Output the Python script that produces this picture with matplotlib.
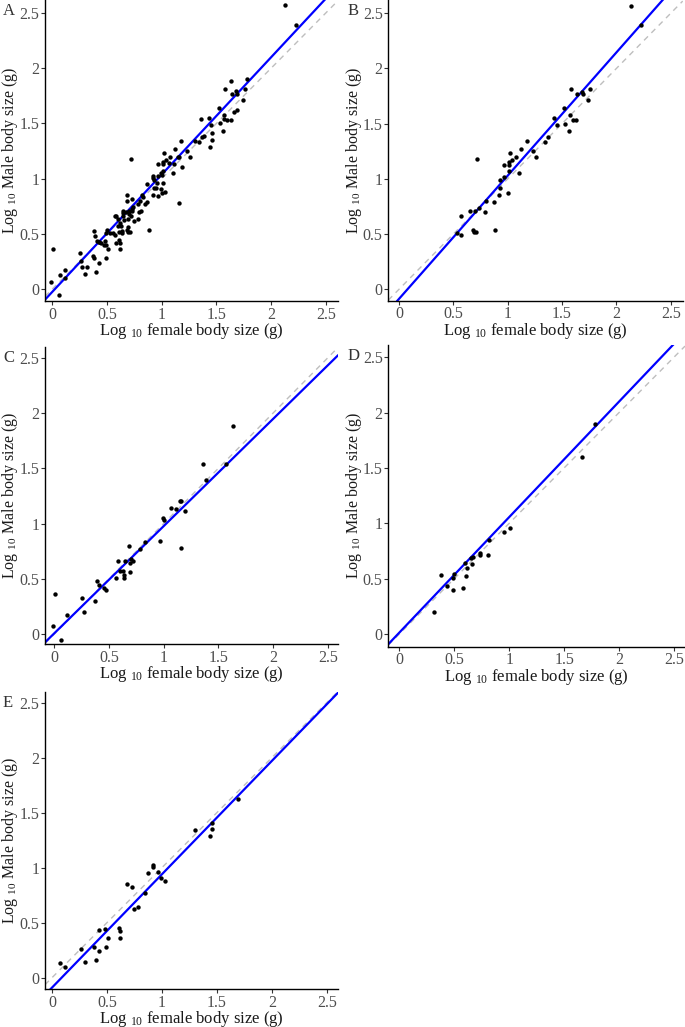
import numpy as np
import matplotlib
matplotlib.use("Agg")
import matplotlib.pyplot as plt

plt.rcParams['font.family'] = ['Liberation Serif', 'DejaVu Serif']
plt.rcParams['mathtext.fontset'] = 'custom'
plt.rcParams['mathtext.rm'] = 'Liberation Serif'
plt.rcParams['mathtext.it'] = 'Liberation Serif:italic'

# ---- data (log10 female, log10 male) ----
b_female = [2.13, 2.23, 1.58, 1.76, 1.64, 1.68, 1.69, 1.74, 1.52, 1.43, 1.57, 1.60, 1.63,
            1.53, 1.45, 1.56, 1.37, 1.34, 1.18, 1.12, 1.23, 1.26, 1.08, 1.02, 1.04, 1.01,
            0.97, 1.01, 0.72, 1.10, 1.01, 0.97, 0.93, 0.93, 0.92, 1.00, 0.87, 0.80, 0.79,
            0.74, 0.70, 0.65, 0.57, 0.57, 0.53, 0.68, 0.69, 0.71, 0.88]
b_male = [2.57, 2.39, 1.81, 1.81, 1.77, 1.79, 1.77, 1.71, 1.64, 1.55, 1.58, 1.53, 1.53,
          1.50, 1.49, 1.43, 1.38, 1.33, 1.34, 1.27, 1.25, 1.20, 1.20, 1.23, 1.17, 1.15,
          1.13, 1.13, 1.18, 1.05, 1.07, 1.02, 0.99, 0.92, 0.85, 0.87, 0.79, 0.80, 0.70,
          0.74, 0.71, 0.71, 0.66, 0.49, 0.51, 0.54, 0.52, 0.52, 0.54]

c_female = [1.63, 1.36, 1.57, 1.39, 1.15, 1.16, 1.07, 1.11, 1.19, 0.99, 1.00, 0.97, 1.16,
            0.83, 0.78, 0.68, 0.58, 0.65, 0.72, 0.70, 0.69, 0.60, 0.63, 0.69, 0.64, 0.64,
            0.56, 0.39, 0.41, 0.45, 0.47, 0.25, 0.37, 0.27, 0.12, 0.01, -0.01, 0.06]
c_male = [1.88, 1.54, 1.54, 1.39, 1.20, 1.20, 1.14, 1.13, 1.11, 1.05, 1.03, 0.84, 0.78,
          0.83, 0.77, 0.80, 0.66, 0.66, 0.66, 0.68, 0.64, 0.57, 0.57, 0.56, 0.53, 0.51,
          0.51, 0.48, 0.44, 0.42, 0.40, 0.33, 0.30, 0.20, 0.17, 0.36, 0.07, -0.05]

d_female = [1.78, 1.66, 1.01, 0.95, 0.82, 0.81, 0.73, 0.73, 0.65, 0.67, 0.60, 0.62, 0.66,
            0.61, 0.50, 0.49, 0.38, 0.43, 0.49, 0.58, 0.32]
d_male = [1.90, 1.60, 0.96, 0.92, 0.85, 0.71, 0.73, 0.71, 0.69, 0.70, 0.64, 0.60, 0.63,
          0.52, 0.54, 0.51, 0.53, 0.43, 0.40, 0.42, 0.20]

e_female = [1.69, 1.30, 1.46, 1.46, 1.44, 0.92, 0.92, 0.87, 0.96, 0.99, 1.03, 0.68, 0.73,
            0.85, 0.78, 0.75, 0.61, 0.62, 0.62, 0.43, 0.48, 0.51, 0.49, 0.43, 0.38, 0.26,
            0.40, 0.30, 0.07, 0.12]
e_male = [1.62, 1.34, 1.41, 1.35, 1.29, 1.02, 1.01, 0.95, 0.96, 0.91, 0.88, 0.85, 0.82,
          0.77, 0.64, 0.62, 0.45, 0.42, 0.36, 0.43, 0.44, 0.36, 0.28, 0.24, 0.28, 0.26,
          0.16, 0.14, 0.13, 0.10]

a_female = b_female + c_female + d_female + e_female
a_male = b_male + c_male + d_male + e_male

panel_labels = ['A', 'B', 'C', 'D', 'E']
fit_slopes = [1.062, 1.116, 0.970, 1.043, 1.030]
fit_intercepts = [-0.025, -0.087, 0.007, 0.013, -0.09]
x_ticks = [0, 0.5, 1, 1.5, 2, 2.5]
y_ticks = [0, 0.5, 1, 1.5, 2, 2.5]
x_tick_labels = ['0', '0.5', '1', '1.5', '2', '2.5']
y_tick_labels = ['0', '0.5', '1', '1.5', '2', '2.5']
x_label = 'Log $_{10}$ female body size (g)'
y_label = 'Log $_{10}$ Male body size (g)'

panels_x = [a_female, b_female, c_female, d_female, e_female]
panels_y = [a_male, b_male, c_male, d_male, e_male]

# ---- layout (pixel boxes: left, right, top, bottom) ----
W, H = 685, 1027
boxes = [(45, 338, 0, 301), (388.3, 682.7, 0, 300.7),
         (45, 337.7, 346.7, 644), (388.3, 685, 345, 646.7),
         (45, 337.7, 691.7, 989)]
xlims = [(-0.065, 2.61), (-0.098, 2.61), (-0.085, 2.59), (-0.10, 2.60), (-0.064, 2.60)]
ylims = [(-0.106, 2.616), (-0.103, 2.62), (-0.09, 2.60), (-0.114, 2.61), (-0.103, 2.60)]

fig = plt.figure(figsize=(W / 100, H / 100), dpi=100)
tick_color = '#4D4D4D'

for i in range(5):
    l, r, t, b = boxes[i]
    ax = fig.add_axes([l / W, 1 - b / H, (r - l) / W, (b - t) / H])
    ax.axline((0, 0), slope=1, color='#BEBEBE', lw=1.0, dashes=(4, 3.5), zorder=1)
    ax.axline((0, fit_intercepts[i]), slope=fit_slopes[i], color='#0000FF', lw=1.6, zorder=2)
    ax.scatter(panels_x[i], panels_y[i], s=10, color='black', zorder=3, linewidths=0)
    ax.set_xlim(*xlims[i])
    ax.set_ylim(*ylims[i])
    ax.set_xticks(x_ticks)
    ax.set_xticklabels(x_tick_labels)
    ax.set_yticks(y_ticks)
    ax.set_yticklabels(y_tick_labels)
    for s in ['top', 'right']:
        ax.spines[s].set_visible(False)
    for s in ['left', 'bottom']:
        ax.spines[s].set_linewidth(1.0)
        ax.spines[s].set_color('black')
    ax.tick_params(axis='both', direction='out', length=3, width=0.8,
                   color='#333333', labelcolor=tick_color, labelsize=11.5, pad=1)
    ax.set_xlabel(x_label, fontsize=12, color='#1a1a1a')
    ax.set_ylabel(y_label, fontsize=11.5, color='#1a1a1a')
    ax.xaxis.set_label_coords(0.5, -20.0 / (b - t))
    ax.yaxis.set_label_coords(-(l - 20.5) / (r - l) if l < 100 else -(l - 363.5) / (r - l), 0.5)
    ax.set_facecolor('white')
    fig.text(3.0 / W if l < 100 else 348.0 / W, 1 - (t + 3) / H, panel_labels[i], fontsize=12,
             color='#333333', ha='left', va='top')

fig.savefig('out.png', dpi=100, facecolor='white')
